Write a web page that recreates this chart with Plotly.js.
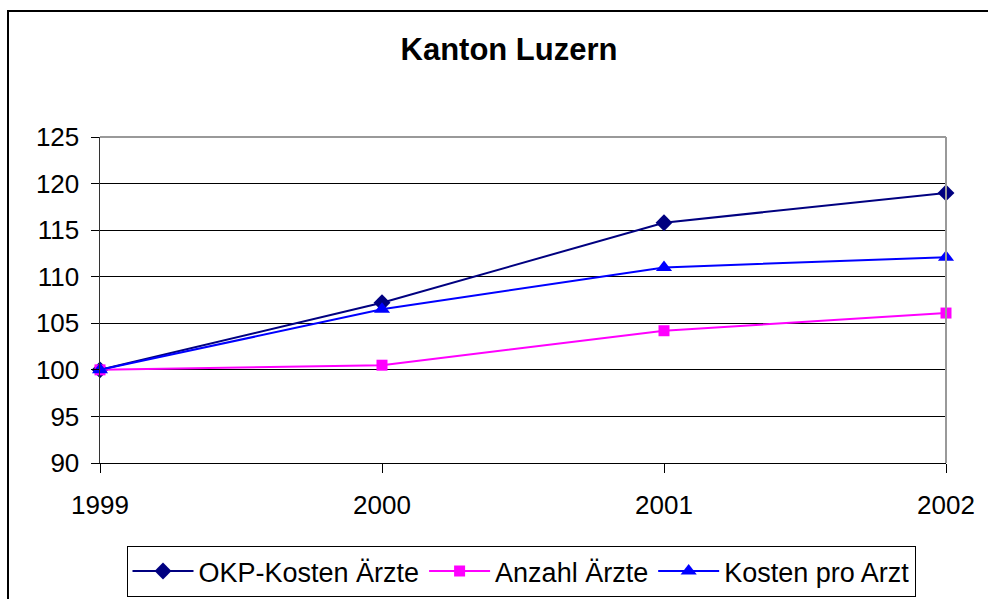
<!DOCTYPE html>
<html>
<head>
<meta charset="utf-8">
<script src="https://cdn.plot.ly/plotly-3.0.1.min.js"></script>
<style>html,body{margin:0;padding:0;background:#fff}#chart{width:988px;height:599px}</style>
</head>
<body>
<div id="chart"></div>
<script>
const years = [1999, 2000, 2001, 2002];
const okpKosten = [100, 107.2, 115.8, 119.0];
const anzahlAerzte = [100, 100.5, 104.2, 106.1];
const kostenProArzt = [100, 106.5, 111.0, 112.1];
const seriesNames = ['OKP-Kosten Ärzte', 'Anzahl Ärzte', 'Kosten pro Arzt'];
const yTicks = [90, 95, 100, 105, 110, 115, 120, 125];

const traces = [
  {x: years, y: okpKosten, name: seriesNames[0], mode: 'lines+markers', cliponaxis: false,
   line: {color: '#000080', width: 2}, marker: {symbol: 'diamond', size: 13, color: '#000080'}},
  {x: years, y: anzahlAerzte, name: seriesNames[1], mode: 'lines+markers', cliponaxis: false,
   line: {color: '#FF00FF', width: 2}, marker: {symbol: 'square', size: 11, color: '#FF00FF'}},
  {x: years, y: kostenProArzt, name: seriesNames[2], mode: 'lines+markers', cliponaxis: false,
   line: {color: '#0000FF', width: 2}, marker: {symbol: 'triangle-up', size: 14, color: '#0000FF'}}
];

const L = 100, R = 946, T = 137, B = 463;
const W = R - L, H = B - T;
const px = v => (v - L) / W;
const py = v => (B - v) / H;
const FONT = 'Liberation Sans, Arial, sans-serif';

const layout = {
  width: 988, height: 599,
  margin: {l: L, r: 988 - R, t: T, b: 599 - B, autoexpand: false},
  paper_bgcolor: '#fff', plot_bgcolor: '#fff',
  font: {family: FONT, color: '#000', size: 26},
  title: {text: '<b>Kanton Luzern</b>', font: {size: 31, family: FONT},
          x: 509/988, xanchor: 'center', y: 1 - 49/599, yanchor: 'middle'},
  xaxis: {range: [1999, 2002], tickvals: years, ticktext: years.map(String),
          showgrid: false, zeroline: false, showline: true, linecolor: '#000', linewidth: 1,
          ticks: 'outside', ticklen: 9, tickcolor: '#000', tickfont: {size: 26},
          ticklabelstandoff: 10, fixedrange: true},
  yaxis: {range: [90, 125], tickvals: yTicks, showgrid: true, gridcolor: '#000', gridwidth: 1,
          zeroline: false, showline: true, linecolor: '#333', linewidth: 1.5,
          ticks: 'outside', ticklen: 8, tickcolor: '#000', tickfont: {size: 26}, ticklabelstandoff: 6},
  showlegend: true,
  legend: {orientation: 'h', xref: 'container', yref: 'container',
           x: 521/988, xanchor: 'center', y: 1 - 597/599, yanchor: 'bottom',
           bordercolor: '#000', borderwidth: 1, font: {size: 27}, itemwidth: 61,
           tracegroupgap: 0},
  shapes: [
    {type: 'line', xref: 'paper', yref: 'paper', x0: px(R), x1: px(R), y0: 0, y1: 1, line: {color: '#999', width: 2}},
    {type: 'line', xref: 'paper', yref: 'paper', x0: 0, x1: 1, y0: 1, y1: 1, line: {color: '#999', width: 2}},
    {type: 'path', xref: 'paper', yref: 'paper',
     path: `M ${px(8)} ${py(605)} L ${px(8)} ${py(11)} L ${px(995)} ${py(11)}`,
     line: {color: '#000', width: 2}}
  ]
};

Plotly.newPlot('chart', traces, layout, {displayModeBar: false, staticPlot: true});
</script>
</body>
</html>
